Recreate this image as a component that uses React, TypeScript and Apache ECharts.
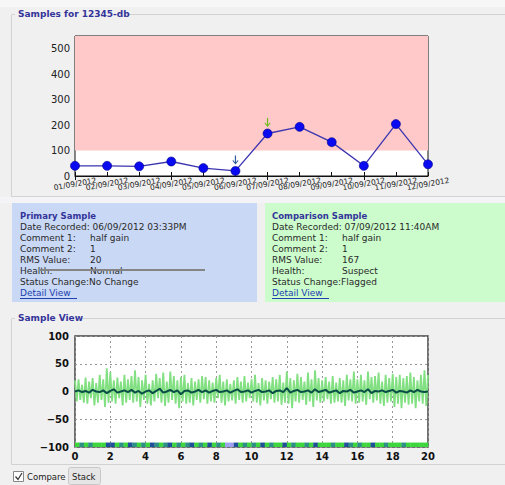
import React, { useEffect, useRef } from "react";
import * as echarts from "echarts";

// ---------- data ----------
const dates = [
  "01/09/2012", "02/09/2012", "03/09/2012", "04/09/2012", "05/09/2012", "06/09/2012",
  "07/09/2012", "08/09/2012", "09/09/2012", "10/09/2012", "11/09/2012", "12/09/2012",
];
const rmsValues = [40, 40, 38, 57, 31, 20, 167, 193, 133, 40, 204, 46];
const alarmThreshold = 100;
const rmsMax = 550;
const primaryIndex = 5;
const comparisonIndex = 6;

// comparison sample waveform (light green), one value every 0.1 s
const comparisonStep = 0.1;
const comparisonWave = [
  20, -18, 22, -15, 12, -20, 25, -22, 18, -12,
  24, -25, 15, -20, 30, -15, 22, -28, 42, -20,
  35, -18, 20, -22, 25, -12, 18, -25, 30, -20,
  22, -15, 28, -20, 38, -18, 26, -28, 20, -15,
  30, -22, 14, -25, 20, -18, 32, -12, 24, -20,
  34, -26, 18, -20, 36, -15, 28, -22, 20, -30,
  26, -18, 30, -22, 15, -20, 24, -25, 18, -15,
  22, -20, 28, -14, 26, -22, 20, -18, 16, -20,
  24, -12, 30, -20, 18, -25, 22, -18, 14, -16,
  20, -22, 26, -15, 18, -20, 28, -18, 16, -12,
  22, -18, 30, -20, 15, -25, 24, -16, 20, -22,
  18, -14, 26, -20, 22, -18, 30, -24, 16, -20,
  36, -22, 24, -30, 20, -18, 32, -20, 26, -15,
  18, -24, 34, -18, 22, -28, 38, -16, 24, -20,
  20, -18, 26, -14, 18, -22, 28, -20, 16, -18,
  24, -20, 20, -26, 30, -16, 22, -18, 36, -22,
  22, -20, 30, -18, 20, -24, 36, -14, 26, -20,
  28, -16, 34, -22, 18, -26, 30, -20, 24, -18,
  32, -28, 26, -22, 30, -30, 24, -20, 28, -24,
  34, -22, 26, -30, 20, -18, 30, -22, 38, -26,
  30,
];

// primary sample waveform (dark teal), one value every 0.2 s
const primaryStep = 0.2;
const primaryWave = [
  0, 2, -1, 1, -2, 3, 0, -1, 2, -3,
  1, 4, -2, 0, 2, -1, 3, -2, 1, -4,
  0, 2, -3, 1, 5, -2, 0, 3, -1, 2,
  -5, 1, 2, -2, 0, 3, -1, 2, -2, 1,
  3, -1, 0, 2, -2, 1, 4, -1, 0, 2,
  -2, 1, 3, -1, 0, 2, -3, 1, 2, -1,
  6, -2, 1, 3, -1, 0, 2, -2, 4, -1,
  1, 3, -2, 0, 2, -3, 1, 0, 3, -2,
  0, 2, -1, 4, -3, 1, 0, 2, -1, 1,
  3, -2, 1, 0, -2, 2, -1, 3, 0, -1,
  0,
];

// spectrum strip at the bottom of the sample view, one level every 0.25 s
const bandStep = 0.25;
const bandLevels = [
  0, 1, 0, 1, 0, 0, 0, 2,
  2, 0, 1, 0, 2, 1, 0, 1,
  0, 2, 1, 0, 1, 2, 0, 1,
  0, 1, 2, 0, 1, 0, 2, 0,
  1, 0, 3, 3, 2, 0, 1, 0,
  1, 0, 2, 0, 1, 0, 0, 2,
  0, 1, 0, 0, 1, 0, 2, 0,
  0, 0, 1, 0, 0, 2, 1, 0,
  1, 0, 0, 2, 0, 0, 1, 0,
  0, 0, 1, 0, 0, 0, 0, 0,
];
const bandColors = ["#3dd63d", "#2e8f86", "#1f4f98", "#9f9ff0"];

const primaryInfo = [
  ["Comment 1:", "half gain"],
  ["Comment 2:", "1"],
  ["RMS Value:", "20"],
  ["Health:", "Normal"],
];
const comparisonInfo = [
  ["Comment 1:", "half gain"],
  ["Comment 2:", "1"],
  ["RMS Value:", "167"],
  ["Health:", "Suspect"],
];

const FONT = "DejaVu Sans";
const ARROW = "path://M4,0 L6,0 L6,9 L9,6 L10,7 L5,12 L0,7 L1,6 L4,9 Z";

function panelTexts(x0: number, vx: number, title: string, date: string, info: string[][], status: string) {
  const els: any[] = [];
  const rowY = (i: number) => 216 + i * 11;
  const base = { fontFamily: FONT, fontSize: 9, fill: "#2a2a2a", verticalAlign: "middle" };
  els.push({ type: "text", x: x0, y: rowY(0), style: { ...base, text: title, fontWeight: "bold", fill: "#34349a", fontSize: 8.5 } });
  els.push({ type: "text", x: x0, y: rowY(1), style: { ...base, text: "Date Recorded: " + date } });
  info.forEach((r, i) => {
    els.push({ type: "text", x: x0, y: rowY(2 + i), style: { ...base, text: r[0] } });
    els.push({ type: "text", x: vx, y: rowY(2 + i), style: { ...base, text: r[1] } });
  });
  els.push({ type: "text", x: x0, y: rowY(6), style: { ...base, text: "Status Change:" + status } });
  els.push({ type: "text", x: x0, y: rowY(7), style: { ...base, text: "Detail View", fill: "#2040b0" } });
  els.push({ type: "line", shape: { x1: x0, y1: rowY(7) + 5.5, x2: x0 + 57, y2: rowY(7) + 5.5 }, style: { stroke: "#2040b0", lineWidth: 1 } });
  return els;
}

export default function App() {
  const ref = useRef<HTMLDivElement>(null);
  useEffect(() => {
    if (!ref.current) return;
    const chart = echarts.init(ref.current, null, { renderer: "svg" });

    const graphic: any[] = [
      { type: "rect", z: -20, shape: { x: 0, y: 0, width: 505, height: 485 }, style: { fill: "#f0f0f0" } },
      { type: "rect", z: -20, shape: { x: 0, y: 0, width: 505, height: 7 }, style: { fill: "#f7f7f7" } },
      // fieldset 1
      { type: "rect", z: -19, shape: { x: 11.5, y: 14.5, width: 500, height: 182 }, style: { fill: "none", stroke: "#d2d2d2", lineWidth: 1 } },
      { type: "rect", z: -18, shape: { x: 15, y: 8, width: 112, height: 12 }, style: { fill: "#f0f0f0" } },
      { type: "text", z: -17, x: 18, y: 14, style: { text: "Samples for 12345-db", fontFamily: FONT, fontSize: 9, fontWeight: "bold", fill: "#34349a", verticalAlign: "middle" } },
      { type: "rect", z: -20, shape: { x: 0, y: 197, width: 505, height: 6 }, style: { fill: "#f4f4f6" } },
      // panels
      { type: "rect", z: -19, shape: { x: 12, y: 203, width: 245, height: 99 }, style: { fill: "#c9d8f5" } },
      { type: "rect", z: -19, shape: { x: 265, y: 203, width: 245, height: 99 }, style: { fill: "#ccfccc" } },
      ...panelTexts(20, 90, "Primary Sample", "06/09/2012 03:33PM", primaryInfo, "No Change"),
      ...panelTexts(272, 342, "Comparison Sample", "07/09/2012 11:40AM", comparisonInfo, "Flagged"),
      { type: "line", shape: { x1: 40, y1: 270, x2: 205, y2: 270 }, style: { stroke: "#858585", lineWidth: 2 } },
      // fieldset 2
      { type: "rect", z: -19, shape: { x: 11.5, y: 318.5, width: 500, height: 146 }, style: { fill: "none", stroke: "#d2d2d2", lineWidth: 1 } },
      { type: "rect", z: -18, shape: { x: 15, y: 312, width: 67, height: 12 }, style: { fill: "#f0f0f0" } },
      { type: "text", z: -17, x: 18, y: 318, style: { text: "Sample View", fontFamily: FONT, fontSize: 9, fontWeight: "bold", fill: "#34349a", verticalAlign: "middle" } },
      // controls
      { type: "rect", shape: { x: 13.5, y: 471.5, width: 10, height: 10 }, style: { fill: "#fff", stroke: "#888", lineWidth: 1 } },
      { type: "polyline", shape: { points: [[15.5, 476.5], [18, 479.5], [22, 473]] }, style: { stroke: "#333", lineWidth: 1.2, fill: "none" } },
      { type: "text", x: 27, y: 477, style: { text: "Compare", fontFamily: FONT, fontSize: 8.5, fill: "#222", verticalAlign: "middle" } },
      { type: "rect", shape: { x: 68.5, y: 467.5, width: 32, height: 17, r: 2 }, style: { fill: "#e6e6e6", stroke: "#c8c8c8", lineWidth: 1 } },
      { type: "text", x: 72, y: 476.5, style: { text: "Stack", fontFamily: FONT, fontSize: 8.5, fill: "#222", verticalAlign: "middle" } },
    ];

    const option: any = {
      animation: false,
      graphic,
      grid: [
        { left: 75, top: 36, width: 353, height: 140, show: true, backgroundColor: "#ffffff", borderColor: "#111", borderWidth: 1 },
        { left: 75, top: 336, width: 353, height: 111, show: true, backgroundColor: "#ffffff", borderColor: "#444", borderWidth: 1.5 },
      ],
      xAxis: [
        {
          gridIndex: 0, type: "category", data: dates, boundaryGap: false,
          axisLine: { lineStyle: { color: "#111" } },
          axisTick: { inside: true, length: 4, lineStyle: { color: "#111" } },
          axisLabel: { interval: 0, rotate: 10, align: "center", margin: 8, fontFamily: FONT, fontSize: 7.5, color: "#222" },
          splitLine: { show: false },
        },
        {
          gridIndex: 0, type: "category", data: dates, boundaryGap: false, position: "top",
          axisLine: { show: false }, axisLabel: { show: false },
          axisTick: { inside: true, length: 4, lineStyle: { color: "#111" } },
        },
        {
          gridIndex: 1, type: "value", min: 0, max: 20, interval: 2,
          axisLine: { show: false }, axisTick: { show: false },
          axisLabel: { margin: 4, fontFamily: FONT, fontSize: 10, fontWeight: "bold", color: "#111" },
          splitLine: { show: true, lineStyle: { color: "#999", type: [2, 3], width: 1 } },
        },
      ],
      yAxis: [
        {
          gridIndex: 0, type: "value", min: 0, max: rmsMax, interval: 100,
          axisLine: { show: false },
          axisTick: { inside: true, length: 4, lineStyle: { color: "#111" } },
          axisLabel: { showMaxLabel: false, margin: 5, fontFamily: FONT, fontSize: 10, color: "#222" },
          splitLine: { show: false },
        },
        {
          gridIndex: 0, type: "value", min: 0, max: rmsMax, interval: 100, position: "right",
          axisLine: { show: false }, axisLabel: { show: false }, splitLine: { show: false },
          axisTick: { inside: true, length: 4, lineStyle: { color: "#111" } },
        },
        {
          gridIndex: 1, type: "value", min: -100, max: 100, interval: 50,
          axisLine: { show: false }, axisTick: { show: false },
          axisLabel: {
            margin: 6, fontFamily: FONT, fontSize: 10, fontWeight: "bold", color: "#111",
            formatter: (v: number) => (v < 0 ? "\u2212" + Math.abs(v) : String(v)),
          },
          splitLine: { show: true, lineStyle: { color: "#999", type: [2, 3], width: 1 } },
        },
      ],
      series: [
        {
          type: "line", xAxisIndex: 0, yAxisIndex: 0, data: rmsValues,
          symbol: "circle", symbolSize: 9, showAllSymbol: true,
          lineStyle: { color: "#3d35b0", width: 1.3 },
          itemStyle: { color: "#0a0af0", borderColor: "#00008a", borderWidth: 0.6 },
          markArea: {
            silent: true, itemStyle: { color: "#ffc9c9" },
            data: [[{ yAxis: alarmThreshold }, { yAxis: rmsMax }]],
          },
          markPoint: {
            silent: true, symbol: ARROW, symbolSize: [6, 9], label: { show: false },
            data: [
              { coord: [primaryIndex, rmsValues[primaryIndex]], symbolOffset: [0, -11], itemStyle: { color: "#2f5a9a" } },
              { coord: [comparisonIndex, rmsValues[comparisonIndex]], symbolOffset: [0, -11], itemStyle: { color: "#6cba1a" } },
            ],
          },
        },
        {
          type: "line", xAxisIndex: 2, yAxisIndex: 2, showSymbol: false,
          data: comparisonWave.map((v, i) => [i * comparisonStep, v]),
          lineStyle: { color: "#82e082", width: 1.8 }, itemStyle: { color: "#82e082" },
        },
        {
          type: "line", xAxisIndex: 2, yAxisIndex: 2, showSymbol: false,
          data: primaryWave.map((v, i) => [i * primaryStep, v]),
          lineStyle: { color: "#0a4d47", width: 2 }, itemStyle: { color: "#0a4d47" },
        },
        {
          type: "custom", xAxisIndex: 2, yAxisIndex: 2,
          data: bandLevels.map((lv, i) => [i * bandStep, -100, lv]),
          encode: { x: 0, y: 1 },
          renderItem: (params: any, api: any) => {
            const x = api.value(0);
            const lv = api.value(2);
            const p0 = api.coord([x, -92]);
            const p1 = api.coord([x + bandStep, -100]);
            return {
              type: "rect",
              shape: { x: p0[0], y: p0[1], width: p1[0] - p0[0] + 0.3, height: p1[1] - p0[1] },
              style: { fill: bandColors[lv] },
            };
          },
        },
      ],
    };
    chart.setOption(option);
    return () => chart.dispose();
  }, []);
  return <div ref={ref} style={{ position: "absolute", left: 0, top: 0, width: 505, height: 485 }} />;
}
